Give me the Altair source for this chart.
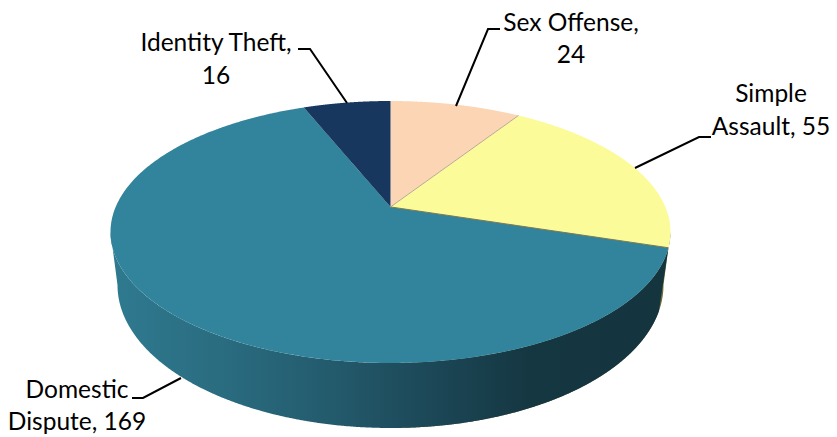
import numpy as np
import pandas as pd
import altair as alt

categories = ["Sex Offense", "Simple Assault", "Domestic Dispute", "Identity Theft"]
values = [24, 55, 169, 16]
colors = ["#FCD5B5", "#FBFB99", "#31849B", "#17375E"]
label_lines = ["Identity Theft,", "16", "Sex Offense,", "24", "Simple", "Assault, 55", "Domestic", "Dispute, 169"]
label_x = [216, 216, 571, 571, 771, 771, 77, 77]
label_y = [44, 77, 24, 56, 95, 128, 391, 423]
leaders = [
    [(298, 49), (310, 49), (347, 103)],
    [(500, 29), (488, 29), (456, 106)],
    [(711, 137), (699, 137), (635, 168)],
    [(132, 398), (143, 398), (181, 378)],
]

CX, CY, A, B, K = 390.5, 232.0, 280.0, 131.0, 0.824
LX, LY, LA, LB = 390.5, 285.0, 273.0, 143.0
W, H = 821, 426


def view_t(theta):
    return 2 * np.arctan2(K * np.sin(theta / 2), np.cos(theta / 2))


def top_pt(t):
    return CX + A * np.sin(t), CY - B * np.cos(t)


def low_pt(t):
    return LX + LA * np.sin(t), LY - LB * np.cos(t)


APEX = (CX, CY - B * (1 - K**2) / (1 + K**2))


def polygon_to_band(poly):
    poly = np.array(poly, dtype=float)
    xs = np.unique(np.round(poly[:, 0], 3))
    rows = []
    n = len(poly)
    for x in xs:
        ys = []
        for i in range(n):
            (x1, y1), (x2, y2) = poly[i], poly[(i + 1) % n]
            lo, hi = min(x1, x2), max(x1, x2)
            if lo - 1e-3 <= x <= hi + 1e-3:
                if abs(x2 - x1) < 1e-6:
                    ys += [y1, y2]
                else:
                    ys.append(y1 + (y2 - y1) * (x - x1) / (x2 - x1))
        if ys:
            rows.append({"x": x, "y": min(ys), "y2": max(ys)})
    return pd.DataFrame(rows)


x_scale = alt.Scale(domain=[8, 8 + W], nice=False, zero=False)
y_scale = alt.Scale(domain=[8 + H, 8], nice=False, zero=False)
X = alt.X("x:Q", scale=x_scale, axis=None)
Y = alt.Y("y:Q", scale=y_scale, axis=None)


def band(poly, color):
    return alt.Chart(polygon_to_band(poly)).mark_area(color=color, strokeWidth=0).encode(
        x=X, y=Y, y2="y2:Q"
    )


total = sum(values)
edges = np.concatenate([[0], np.cumsum(values)]) / total * 2 * np.pi
layers = []

# boundary between Simple Assault and Domestic Dispute on the rim
split = view_t(edges[2])
sx, sy = top_pt(split)

# side wall
olive_poly = (
    [top_pt(np.radians(180 - a)) for a in np.arange(0, 90.01, 0.5)]
    + [low_pt(t) for t in np.radians(np.arange(90, 180, 0.5))]
)
layers.append(band(olive_poly, "#6E6E3C"))

end_low = np.radians(100.5)
teal_t_top = np.linspace(split, np.radians(270), 400)
teal_t_low = np.linspace(np.radians(270), end_low, 400)
teal_poly = [top_pt(t) for t in teal_t_top] + [low_pt(t) for t in teal_t_low]
gradient = alt.Gradient(
    gradient="linear",
    x1=0, x2=1, y1=0, y2=0,
    stops=[
        alt.GradientStop(color="#2F7A90", offset=0),
        alt.GradientStop(color="#2A6C80", offset=0.2),
        alt.GradientStop(color="#235A6C", offset=0.4),
        alt.GradientStop(color="#1B4554", offset=0.6),
        alt.GradientStop(color="#153742", offset=0.75),
        alt.GradientStop(color="#14343E", offset=1),
    ],
)
layers.append(band(teal_poly, gradient))

# top faces
for i, c in enumerate(colors):
    ts = view_t(np.linspace(edges[i], edges[i + 1], 300))
    layers.append(band([APEX] + [top_pt(t) for t in ts], c))

# slice separators
sep = pd.DataFrame(
    [
        {"id": 0, "o": 0, "x": APEX[0], "y": APEX[1]},
        {"id": 0, "o": 1, "x": top_pt(view_t(edges[1]))[0], "y": top_pt(view_t(edges[1]))[1]},
    ]
)
layers.append(
    alt.Chart(sep).mark_line(color="#B9A89A", strokeWidth=1).encode(x=X, y=Y, order="o:Q", detail="id:N")
)
sep2 = pd.DataFrame(
    [
        {"id": 1, "o": 0, "x": APEX[0], "y": APEX[1]},
        {"id": 1, "o": 1, "x": sx, "y": sy},
    ]
)
layers.append(
    alt.Chart(sep2).mark_line(color="#7E7A50", strokeWidth=1).encode(x=X, y=Y, order="o:Q", detail="id:N")
)

# leader lines
rows = []
for i, pts in enumerate(leaders):
    for j, (px, py) in enumerate(pts):
        rows.append({"id": i, "o": j, "x": px, "y": py})
layers.append(
    alt.Chart(pd.DataFrame(rows)).mark_line(color="#000000", strokeWidth=2).encode(
        x=X, y=Y, order="o:Q", detail="id:N"
    )
)

# labels
labels = pd.DataFrame({"t": label_lines, "x": label_x, "y": label_y})
layers.append(
    alt.Chart(labels)
    .mark_text(font="Lato", fontSize=24.5, color="#000000", align="center", baseline="middle")
    .encode(x=X, y=Y, text="t:N")
)

chart = (
    alt.layer(*layers)
    .properties(
        width=W, height=H, padding=0, background="#FFFFFF",
        autosize=alt.AutoSizeParams(type="none"),
    )
    .configure_view(stroke=None)
)
chart.save("out.html", embed_options={"renderer": "svg", "actions": False})
